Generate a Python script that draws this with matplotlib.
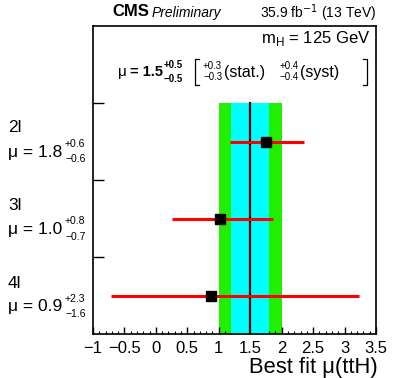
import numpy as np
import matplotlib
matplotlib.use("Agg")
import matplotlib.pyplot as plt
from matplotlib.ticker import MultipleLocator
from matplotlib.lines import Line2D

plt.rcParams['font.family'] = ['Liberation Sans', 'DejaVu Sans']

# channel results
channels = ['2l', '3l', '4l']
mu_best = [1.75, 1.02, 0.87]
err_lo = [0.57, 0.76, 1.59]
err_hi = [0.61, 0.85, 2.36]
mu_text = ['1.8', '1.0', '0.9']
up_text = ['+0.6', '+0.8', '+2.3']
dn_text = ['\u22120.6', '\u22120.7', '\u22121.6']

# combined result
mu_comb = 1.5
tot_err = 0.5
stat_err = 0.3

W, H = 394, 378
fig = plt.figure(figsize=(W / 100, H / 100), dpi=100)
ax = fig.add_axes([93 / W, 1 - 334 / H, (376 - 93) / W, (334 - 26) / H])

ypos = np.arange(len(channels))[::-1] + 0.5
ytop = len(channels)

# combined bands
ax.fill_betweenx([0, ytop], mu_comb - tot_err, mu_comb + tot_err, color='#22ee00', lw=0, zorder=1)
ax.fill_betweenx([0, ytop], mu_comb - stat_err, mu_comb + stat_err, color='#00ffff', lw=0, zorder=2)
ax.plot([mu_comb, mu_comb], [0, ytop], color='black', lw=1.6, zorder=3)

# per-channel points
ax.errorbar(mu_best, ypos, xerr=[err_lo, err_hi], fmt='s', color='black', ms=7.5,
            ecolor='red', elinewidth=2.2, capsize=0, zorder=4)

ax.set_xlim(-1, 3.5)
ax.set_ylim(0, 4)
ax.xaxis.set_major_locator(MultipleLocator(0.5))
ax.xaxis.set_minor_locator(MultipleLocator(0.1))
ax.set_xticklabels([])
ax.tick_params(axis='x', which='major', direction='in', length=5, width=1, top=False)
ax.tick_params(axis='x', which='minor', direction='in', length=2.5, width=0.8, top=False)
ax.set_yticks([1, 2, 3])
ax.set_yticklabels([])
ax.tick_params(axis='y', which='major', direction='in', length=8, width=1, right=False)
for s in ax.spines.values():
    s.set_linewidth(1.2)

# tick labels
for v in np.arange(-1, 3.51, 0.5):
    lab = ('%g' % v).replace('-', '\u2212')
    ax.annotate(lab, (v, 0), xycoords=('data', 'axes fraction'), xytext=(0, -5),
                textcoords='offset points', ha='center', va='top', fontsize=12)


def fx(x):
    return x / W


def fy(y):
    return 1 - y / H


fig.text(fx(378), fy(367), 'Best fit \u03bc(ttH)', ha='right', va='center', fontsize=15.8)

# header
fig.text(fx(112), fy(12), 'CMS', ha='left', va='center', fontsize=12, fontweight='bold')
fig.text(fx(152), fy(12.5), 'Preliminary', ha='left', va='center', fontsize=10, style='italic')
fig.text(fx(376), fy(13), '35.9 fb$^{-1}$ (13 TeV)', ha='right', va='center', fontsize=10)
fig.text(fx(370), fy(38), 'm$_\\mathregular{H}$ = 125 GeV', ha='right', va='center', fontsize=12)

# combined result text
fig.text(fx(118), fy(72), '\u03bc', ha='left', va='center', fontsize=11)
fig.text(fx(130), fy(72), '= 1.5', ha='left', va='center', fontsize=10.5, fontweight='bold')
fig.text(fx(164), fy(65), '+0.5', ha='left', va='center', fontsize=7, fontweight='bold')
fig.text(fx(164), fy(79), '\u22120.5', ha='left', va='center', fontsize=7, fontweight='bold')
fig.text(fx(203), fy(66), '+0.3', ha='left', va='center', fontsize=7)
fig.text(fx(203), fy(77), '\u22120.3', ha='left', va='center', fontsize=7)
fig.text(fx(224), fy(72), '(stat.)', ha='left', va='center', fontsize=11.5)
fig.text(fx(280), fy(66), '+0.4', ha='left', va='center', fontsize=7)
fig.text(fx(280), fy(77), '\u22120.4', ha='left', va='center', fontsize=7)
fig.text(fx(300), fy(72), '(syst)', ha='left', va='center', fontsize=11.5)

# brackets
for xb, xs in [(195, 199), (367, 363)]:
    fig.add_artist(Line2D([fx(xs), fx(xb), fx(xb), fx(xs)], [fy(59), fy(59), fy(85), fy(85)],
                          color='black', lw=0.9))

# channel labels
for i, ch in enumerate(channels):
    yc = 152 + i * 77.5
    fig.text(fx(8), fy(yc - 24), ch, ha='left', va='center', fontsize=12.5)
    fig.text(fx(8), fy(yc), '\u03bc = ' + mu_text[i], ha='left', va='center', fontsize=12.5)
    fig.text(fx(65), fy(yc - 8), up_text[i], ha='left', va='center', fontsize=7.5)
    fig.text(fx(65), fy(yc + 7), dn_text[i], ha='left', va='center', fontsize=7.5)

fig.savefig('out.png', dpi=100)
